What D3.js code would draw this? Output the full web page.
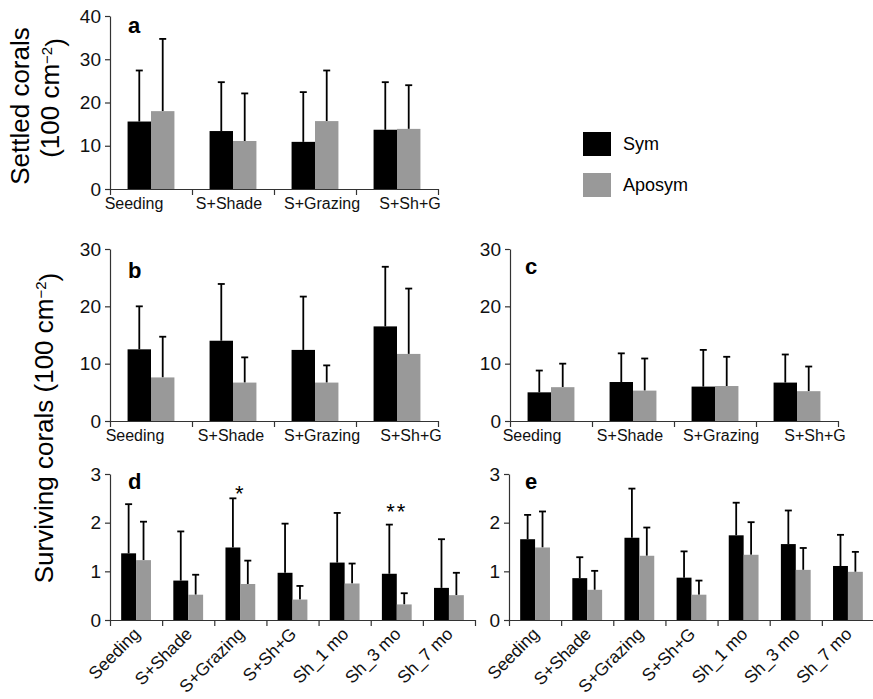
<!DOCTYPE html>
<html lang="en">
<head>
<meta charset="UTF-8">
<title>Coral settlement and survival</title>
<script src="https://d3js.org/d3.v7.min.js"></script>
<style>
  body { margin: 0; background: #fff; }
  svg, .axis, .axis text { font-family: "Liberation Sans", Arial, Helvetica, sans-serif; }
  .axis path, .axis line { stroke: #333; stroke-width: 1.2; }
  .axis text { fill: #111; }
</style>
</head>
<body>
<svg width="873" height="699"></svg>
<script>
// categories
var cats4 = ["Seeding", "S+Shade", "S+Grazing", "S+Sh+G"];
var cats7 = ["Seeding", "S+Shade", "S+Grazing", "S+Sh+G", "Sh_1 mo", "Sh_3 mo", "Sh_7 mo"];
var series = ["Sym", "Aposym"];

// a: settled corals
var aSym = [15.6, 13.4, 10.9, 13.7];
var aSymSd = [11.8, 11.3, 11.5, 11.0];
var aApo = [18.0, 11.1, 15.7, 13.9];
var aApoSd = [16.7, 11.0, 11.7, 10.1];

// b: surviving corals
var bSym = [12.5, 14.0, 12.4, 16.5];
var bSymSd = [7.5, 9.9, 9.3, 10.4];
var bApo = [7.6, 6.7, 6.7, 11.7];
var bApoSd = [7.1, 4.4, 3.0, 11.4];

// c
var cSym = [5.0, 6.8, 6.0, 6.7];
var cSymSd = [3.8, 5.0, 6.4, 4.9];
var cApo = [5.9, 5.3, 6.1, 5.2];
var cApoSd = [4.1, 5.6, 5.1, 4.3];

// d
var dSym = [1.37, 0.81, 1.49, 0.97, 1.18, 0.95, 0.66];
var dSymSd = [1.01, 1.01, 1.01, 1.01, 1.02, 1.01, 1.00];
var dApo = [1.23, 0.52, 0.74, 0.42, 0.75, 0.32, 0.51];
var dApoSd = [0.79, 0.41, 0.48, 0.28, 0.41, 0.23, 0.46];
var dStars = [{cat: "S+Grazing", text: "*", v: 2.69}, {cat: "Sh_3 mo", text: "**", v: 2.33}];

// e
var eSym = [1.66, 0.86, 1.69, 0.87, 1.74, 1.56, 1.11];
var eSymSd = [0.50, 0.43, 1.01, 0.54, 0.67, 0.69, 0.64];
var eApo = [1.49, 0.62, 1.32, 0.52, 1.34, 1.03, 0.99];
var eApoSd = [0.74, 0.39, 0.58, 0.29, 0.67, 0.45, 0.41];

var ticks40 = [0, 10, 20, 30, 40];
var ticks30 = [0, 10, 20, 30];
var ticks3 = [0, 1, 2, 3];

var colors = {Sym: "#000000", Aposym: "#999999"};
var svg = d3.select("svg");

function panel(o) {
    var g = svg.append("g");
    var x0 = d3.scaleBand().domain(o.cats).range([o.left, o.right]);
    var x1 = d3.scaleBand().domain(series).range([0, x0.bandwidth()]).paddingOuter(0.75);
    var xl = d3.scaleLinear().domain([0, o.cats.length]).range([o.left, o.right]);
    var y = d3.scaleLinear().domain([0, o.yMax]).range([o.bottom, o.top]);

    var flat = d3.merge(o.cats.map(function(c, i) {
        return [
            {cat: c, s: "Sym", v: o.sym[i], sd: o.symSd[i]},
            {cat: c, s: "Aposym", v: o.apo[i], sd: o.apoSd[i]}
        ];
    }));
    function cx(d) { return x0(d.cat) + x1(d.s) + x1.bandwidth() / 2; }

    // error bars (up only) drawn behind the bars
    var eb = g.selectAll(".err").data(flat).enter().append("g").attr("class", "err")
        .attr("stroke", "#000").attr("stroke-width", 1.8);
    eb.append("line")
        .attr("x1", cx).attr("x2", cx)
        .attr("y1", function(d) { return y(d.v); })
        .attr("y2", function(d) { return y(d.v + d.sd); });
    eb.append("line")
        .attr("x1", function(d) { return cx(d) - 3.5; })
        .attr("x2", function(d) { return cx(d) + 3.5; })
        .attr("y1", function(d) { return y(d.v + d.sd); })
        .attr("y2", function(d) { return y(d.v + d.sd); });

    g.selectAll(".bar").data(flat).enter().append("rect")
        .attr("class", "bar")
        .attr("x", function(d) { return x0(d.cat) + x1(d.s); })
        .attr("width", x1.bandwidth())
        .attr("y", function(d) { return y(d.v); })
        .attr("height", function(d) { return o.bottom - y(d.v); })
        .attr("fill", function(d) { return colors[d.s]; });

    // y axis
    g.append("g").attr("class", "axis")
        .attr("transform", "translate(" + o.left + ",0)")
        .call(d3.axisLeft(y).tickValues(o.ticks).tickFormat(d3.format("d"))
              .tickSize(5).tickSizeOuter(0).tickPadding(4))
        .selectAll("text").style("font-size", "19px");

    // x axis with boundary ticks
    g.append("g").attr("class", "axis")
        .attr("transform", "translate(0," + o.bottom + ")")
        .call(d3.axisBottom(xl).ticks(o.cats.length).tickFormat("").tickSize(6).tickSizeOuter(0));

    // category labels
    var lab = g.append("g").attr("class", "axis")
        .attr("transform", "translate(0," + o.bottom + ")")
        .call(d3.axisBottom(x0).tickSize(0).tickPadding(0));
    lab.select(".domain").remove();
    if (o.rotate) {
        lab.selectAll("text")
            .style("font-size", "17.5px")
            .attr("text-anchor", "end")
            .attr("dy", null)
            .attr("y", 0)
            .attr("transform", "translate(5,15) rotate(-45)");
    } else {
        lab.selectAll("text")
            .style("font-size", "16px")
            .attr("y", 9)
            .attr("dy", "0.71em")
            .attr("dx", function(d, i) { return o.shift[i]; });
    }

    g.append("text")
        .attr("x", o.left + o.letter[0])
        .attr("y", o.top + o.letter[1])
        .attr("font-weight", "bold")
        .attr("font-size", 22)
        .text(o.name);

    if (o.stars) {
        g.selectAll(".star").data(o.stars).enter().append("text")
            .attr("x", function(d) { return x0(d.cat) + x0.bandwidth() / 2; })
            .attr("y", function(d) { return y(d.v); })
            .attr("dy", "0.55em")
            .attr("text-anchor", "middle")
            .attr("font-size", 22)
            .attr("letter-spacing", 2)
            .text(function(d) { return d.text; });
    }
}

panel({name: "a", cats: cats4, sym: aSym, symSd: aSymSd, apo: aApo, apoSd: aApoSd,
       yMax: 40, ticks: ticks40, left: 110, right: 438, top: 16, bottom: 189,
       letter: [18, 17], shift: [-17, -4, 7, 13]});
panel({name: "b", cats: cats4, sym: bSym, symSd: bSymSd, apo: bApo, apoSd: bApoSd,
       yMax: 30, ticks: ticks30, left: 110, right: 438, top: 249, bottom: 421,
       letter: [18, 29], shift: [-16, -2, 7, 14]});
panel({name: "c", cats: cats4, sym: cSym, symSd: cSymSd, apo: cApo, apoSd: cApoSd,
       yMax: 30, ticks: ticks30, left: 510, right: 838, top: 249, bottom: 421,
       letter: [15, 25], shift: [-19, -3, 6, 18]});
panel({name: "d", cats: cats7, sym: dSym, symSd: dSymSd, apo: dApo, apoSd: dApoSd,
       yMax: 3, ticks: ticks3, left: 110, right: 475, top: 474, bottom: 620,
       letter: [18, 15], rotate: true, stars: dStars});
panel({name: "e", cats: cats7, sym: eSym, symSd: eSymSd, apo: eApo, apoSd: eApoSd,
       yMax: 3, ticks: ticks3, left: 509, right: 874, top: 474, bottom: 620,
       letter: [16, 15], rotate: true});

// y titles
function yTitle(x, y, parts) {
    var t = svg.append("text")
        .attr("transform", "translate(" + x + "," + y + ") rotate(-90)")
        .attr("text-anchor", "middle").attr("font-size", 26);
    t.append("tspan").text(parts);
    if (parts.indexOf("(") >= 0) {
        t.append("tspan").attr("dy", "-0.45em").attr("font-size", 15).text("\u22122");
        t.append("tspan").attr("dy", "0.45em").text(")");
    }
}
yTitle(29, 106, "Settled corals");
yTitle(59, 98, "(100 cm");
yTitle(53, 428, "Surviving corals (100 cm");

// legend
var leg = svg.append("g").attr("transform", "translate(583,132)");
leg.selectAll("rect").data(series).enter().append("rect")
    .attr("x", 0).attr("y", function(d, i) { return i * 41; })
    .attr("width", 28).attr("height", 24)
    .attr("fill", function(d) { return colors[d]; });
leg.selectAll("text").data(series).enter().append("text")
    .attr("x", 40).attr("y", function(d, i) { return i * 41 + 12; })
    .attr("dy", "0.35em").attr("font-size", 18)
    .text(function(d) { return d; });
</script>
</body>
</html>
